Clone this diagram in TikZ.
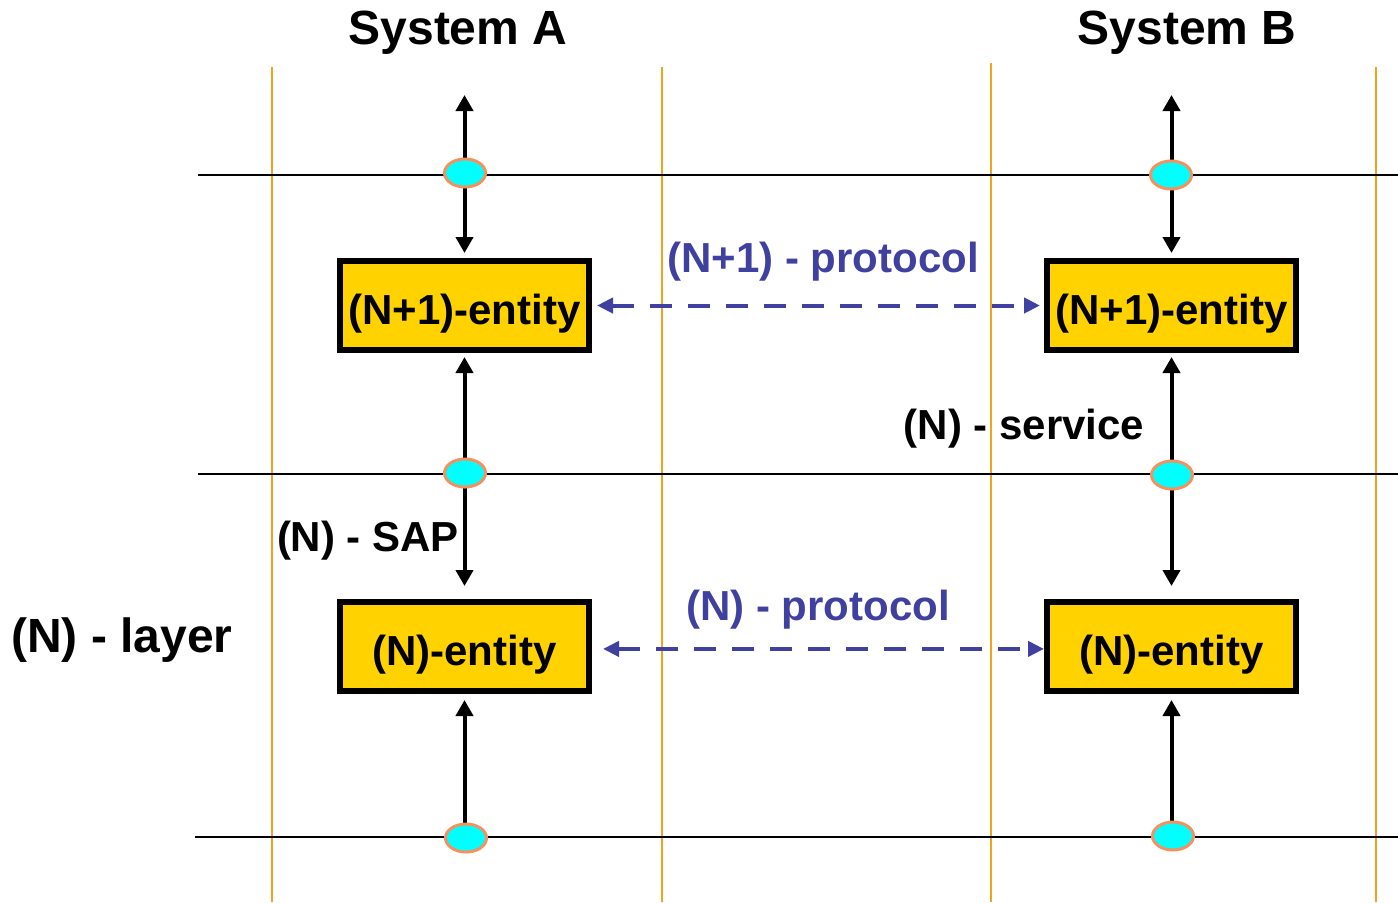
\documentclass[tikz,border=0pt]{standalone}
\usepackage{fontspec}
\setmainfont{Liberation Sans}
\usepackage{xcolor}
\usepackage{tikz}
\definecolor{entitygold}{HTML}{FFD200}
\definecolor{layerorange}{HTML}{F2A31B}
\definecolor{sapcyan}{HTML}{00FFFF}
\definecolor{sapedge}{HTML}{F4915E}
\definecolor{protoblue}{HTML}{4040A0}
\usetikzlibrary{arrows.meta, shapes.geometric}
\tikzset{
	entity/.style={draw, rectangle, line width=2.8pt, fill=entitygold, minimum width=124.7pt, minimum height=44.7pt, inner sep=0pt, text height=23pt, text depth=4.5pt, font=\fontsize{21}{25}\selectfont\bfseries},
	sap/.style={draw=sapedge, ellipse, line width=1.5pt, fill=sapcyan, minimum width=20.5pt, minimum height=14pt, inner sep=0pt},
	sysline/.style={layerorange, line width=1pt},
	layerline/.style={black, line width=1pt},
	updown/.style={{Triangle[width=8.5pt,length=8pt]}-{Triangle[width=8.5pt,length=8pt]}, line width=2pt},
	upto/.style={-{Triangle[width=8.5pt,length=8pt]}, line width=2pt},
	protoarrow/.style={{Triangle[width=7.5pt,length=8pt]}-{Triangle[width=7.5pt,length=8pt]}, protoblue, line width=2pt, dash pattern=on 11pt off 8pt},
	tag/.style={inner sep=0pt, font=\fontsize{21}{25}\selectfont\bfseries},
	protolabel/.style={tag, text=protoblue}
}

\begin{document}
\begin{tikzpicture}[x=0.5pt, y=-0.5pt]
	\useasboundingbox (0,0) rectangle (1398,902);
	
	% system borders
	\foreach \xx/\yy in {272/67, 662/67, 991/63, 1376/67}
		\draw[sysline] (\xx,\yy) -- (\xx,902);
	
	% layer boundaries
	\draw[layerline] (198,175) -- (1398,175);
	\draw[layerline] (198,474) -- (1398,474);
	\draw[layerline] (195,837) -- (1398,837);
	
	\node[entity] (upperA) at (464.5,305.5) {(N+1)-entity};
	
	\node[entity] (upperB) at (1171.5,305.5) {(N+1)-entity};
	
	\node[entity] (lowerA) at (464.5,646.5) {(N)-entity};
	
	\node[entity] (lowerB) at (1171.5,646.5) {(N)-entity};
	
	\coordinate (topA) at (464.5,95);
	\coordinate (topB) at (1171.5,95);
	\coordinate (baseA) at (464.5,837);
	\coordinate (baseB) at (1171.5,837);
	
	\draw[updown, shorten >=2.5pt] (topA) -- (upperA.north);
	
	\draw[updown, shorten <=2pt, shorten >=6.5pt] (upperA.south) -- (lowerA.north);
	
	\draw[upto, shorten >=3pt] (baseA) -- (lowerA.south);
	
	\draw[updown, shorten >=2.5pt] (topB) -- (upperB.north);
	
	\draw[updown, shorten <=2pt, shorten >=6.5pt] (upperB.south) -- (lowerB.north);
	
	\draw[upto, shorten >=3pt] (baseB) -- (lowerB.south);
	
	\node[sap] (sapA3) at (465,173) {};
	\node[sap] (sapB3) at (1171,175) {};
	\node[sap] (sapA2) at (465,473) {};
	\node[sap] (sapB2) at (1172,475) {};
	\node[sap] (sapA1) at (466,838) {};
	\node[sap] (sapB1) at (1173,836) {};
	
	\draw[protoarrow, shorten <=2.5pt, shorten >=2pt] (upperA.east) -- (upperB.west);
	
	\draw[protoarrow, shorten <=5.5pt] ([yshift=-1.2pt]lowerA.east) -- ([yshift=-1.2pt]lowerB.west);
	
	\node[tag, font=\fontsize{24}{28}\selectfont\bfseries] (sysA) at (458,33) {System A};
	\node[tag, font=\fontsize{24}{28}\selectfont\bfseries] (sysB) at (1187,33) {System B};
	
	\node[protolabel] (upperproto) at (823,262) {(N+1) - protocol};
	\node[protolabel] (lowerproto) at (818,610) {(N) - protocol};
	
	\node[tag] (service) at (1024,429) {(N) - service};
	\node[tag] (saplabel) at (368,541) {(N) - SAP};
	\node[tag, font=\fontsize{24}{28}\selectfont\bfseries] (layer) at (122,640) {(N) - layer};
\end{tikzpicture}
\end{document}
